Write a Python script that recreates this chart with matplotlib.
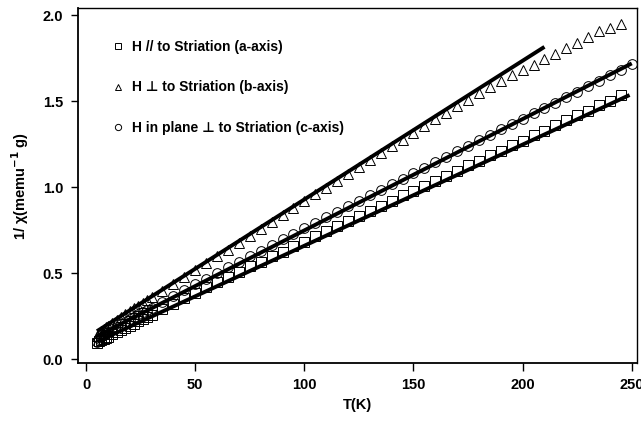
import matplotlib
matplotlib.use("Agg")
import matplotlib.pyplot as plt
from matplotlib.lines import Line2D

plt.rcParams['font.family'] = ['Liberation Sans', 'DejaVu Sans']
plt.rcParams['font.weight'] = 'bold'

# ---- data ----
T_low = [5, 6, 7, 8, 9, 10, 12, 14, 16, 18, 20, 22, 24, 26, 28, 30]
T_a = T_low + [35, 40, 45, 50, 55, 60, 65, 70, 75, 80, 85, 90, 95, 100, 105, 110, 115, 120,
               125, 130, 135, 140, 145, 150, 155, 160, 165, 170, 175, 180, 185, 190, 195,
               200, 205, 210, 215, 220, 225, 230, 235, 240, 245]
y_a = [0.095, 0.103, 0.110, 0.117, 0.124, 0.131, 0.144, 0.156, 0.168, 0.181, 0.193, 0.206,
       0.219, 0.231, 0.244, 0.257, 0.289, 0.322, 0.355, 0.386, 0.418, 0.447, 0.479, 0.506,
       0.539, 0.566, 0.598, 0.625, 0.657, 0.683, 0.715, 0.742, 0.773, 0.801, 0.833, 0.859,
       0.892, 0.918, 0.951, 0.977, 1.009, 1.036, 1.067, 1.094, 1.127, 1.152, 1.186, 1.211,
       1.245, 1.270, 1.303, 1.328, 1.361, 1.387, 1.420, 1.445, 1.478, 1.503, 1.535]

T_b = T_low + [35, 40, 45, 50, 55, 60, 65, 70, 75, 80, 85, 90, 95, 100, 105, 110, 115, 120,
               125, 130, 135, 140, 145, 150, 155, 160, 165, 170, 175, 180, 185, 190, 195,
               200, 205, 210, 215, 220, 225, 230, 235, 240, 245]
y_b = [0.135, 0.150, 0.163, 0.174, 0.184, 0.194, 0.212, 0.229, 0.245, 0.262, 0.278, 0.294,
       0.310, 0.326, 0.342, 0.358, 0.397, 0.438, 0.476, 0.517, 0.556, 0.597, 0.636, 0.677,
       0.716, 0.757, 0.797, 0.836, 0.878, 0.916, 0.958, 0.997, 1.038, 1.077, 1.118, 1.157,
       1.197, 1.236, 1.276, 1.315, 1.354, 1.393, 1.432, 1.470, 1.508, 1.547, 1.582, 1.615,
       1.650, 1.682, 1.712, 1.742, 1.772, 1.808, 1.838, 1.870, 1.905, 1.922, 1.950]

T_c = T_low + [35, 40, 45, 50, 55, 60, 65, 70, 75, 80, 85, 90, 95, 100, 105, 110, 115, 120,
               125, 130, 135, 140, 145, 150, 155, 160, 165, 170, 175, 180, 185, 190, 195,
               200, 205, 210, 215, 220, 225, 230, 235, 240, 245, 250]
y_c = [0.098, 0.118, 0.130, 0.140, 0.150, 0.158, 0.174, 0.189, 0.203, 0.217, 0.231, 0.245,
       0.259, 0.272, 0.286, 0.299, 0.334, 0.368, 0.402, 0.434, 0.468, 0.500, 0.534, 0.565,
       0.598, 0.631, 0.662, 0.696, 0.727, 0.760, 0.792, 0.823, 0.857, 0.887, 0.921, 0.952,
       0.985, 1.016, 1.049, 1.081, 1.112, 1.146, 1.176, 1.209, 1.240, 1.272, 1.303, 1.336,
       1.366, 1.398, 1.428, 1.462, 1.490, 1.524, 1.553, 1.587, 1.616, 1.650, 1.678, 1.715]

# linear fits (endpoints)
fit_a_T = [5, 249]
fit_a_y = [0.100, 1.535]
fit_b_T = [5, 210]
fit_b_y = [0.162, 1.815]
fit_c_T = [5, 250]
fit_c_y = [0.133, 1.719]

labels = ["H // to Striation (a-axis)",
          "H \u22a5 to Striation (b-axis)",
          "H in plane \u22a5 to Striation (c-axis)"]

xticks = [0, 50, 100, 150, 200, 250]
yticks = [0.0, 0.5, 1.0, 1.5, 2.0]

# ---- figure ----
fig = plt.figure(figsize=(6.41, 4.22), dpi=100)
ax = fig.add_axes([78 / 641, 1 - 363 / 422, 559 / 641, 355 / 422])

mk = dict(ls='none', mfc='none', mec='black', mew=0.7)
ax.plot(T_a, y_a, marker='s', ms=6.8, **mk)
ax.plot(T_b, y_b, marker='^', ms=7.2, **mk)
ax.plot(T_c, y_c, marker='o', ms=7.0, **mk)

ax.plot(fit_a_T, fit_a_y, color='black', lw=2.8, solid_capstyle='butt')
ax.plot(fit_b_T, fit_b_y, color='black', lw=2.8, solid_capstyle='butt')
ax.plot(fit_c_T, fit_c_y, color='black', lw=2.8, solid_capstyle='butt')

handles = [Line2D([], [], marker='s', ms=4, **mk),
           Line2D([], [], marker='^', ms=4.5, **mk),
           Line2D([], [], marker='o', ms=4.5, **mk)]
leg = ax.legend(handles, labels, loc='upper left', bbox_to_anchor=(0.04, 0.945),
                frameon=False, handlelength=0.8, handletextpad=0.6, labelspacing=1.9,
                prop={'size': 10, 'weight': 'bold'})

ax.set_xlim(-3.7, 252.4)
ax.set_ylim(-0.023, 2.041)
ax.set_xticks(xticks)
ax.set_xticklabels([str(v) for v in xticks])
ax.set_yticks(yticks)
ax.set_yticklabels([f"{v:.1f}" for v in yticks])
ax.tick_params(axis='x', direction='out', length=6, width=1, labelsize=10.5, pad=5)
ax.tick_params(axis='y', direction='out', length=4.7, width=1, labelsize=10.5, pad=6)

ax.set_xlabel("T(K)", fontsize=10.5, fontweight='bold', labelpad=4)
ax.set_ylabel("1/ \u03c7(memu$^{\\mathbf{-1}}$ g)", fontsize=10.5, fontweight='bold', labelpad=8)

for s in ax.spines.values():
    s.set_linewidth(1.0)
ax.spines['left'].set_linewidth(1.3)
ax.spines['bottom'].set_linewidth(1.3)

fig.savefig("out.png", dpi=100)
